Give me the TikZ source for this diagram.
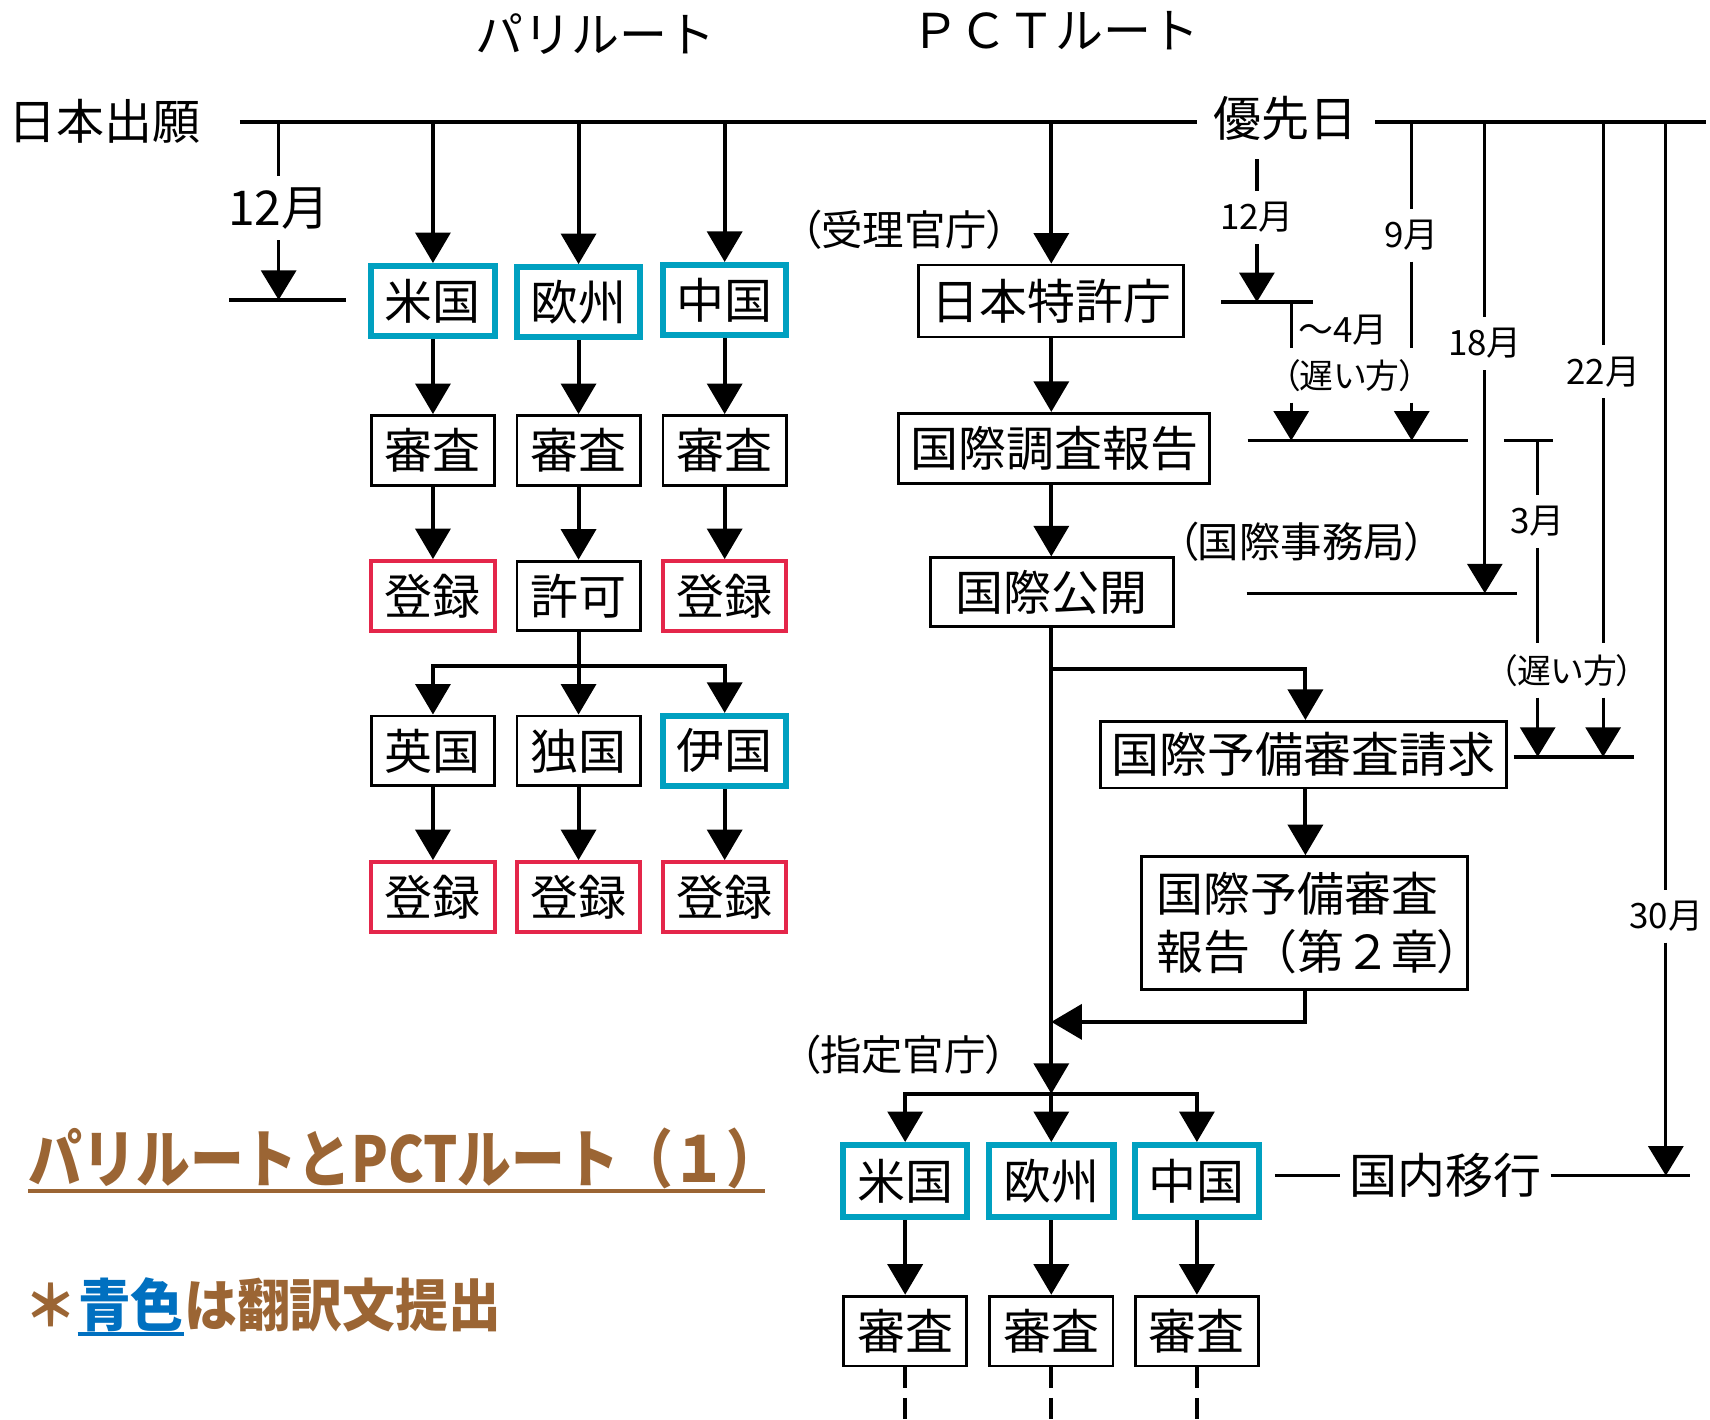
\documentclass[tikz,border=0pt]{standalone}
\usepackage{fontspec}
\setmainfont{Noto Sans CJK JP}
\newfontfamily\jpp[RawFeature=+palt]{Noto Sans CJK JP}
\newfontfamily\jpb[FakeStretch=0.85]{Noto Sans CJK JP}
\newfontfamily\jpc[FakeStretch=0.93]{Noto Sans CJK JP}
\usetikzlibrary{arrows.meta}
\definecolor{cyanC}{RGB}{0,160,192}
\definecolor{redC}{RGB}{228,38,74}
\definecolor{brownC}{RGB}{155,101,52}
\definecolor{blueC}{RGB}{0,112,192}
\begin{document}
\begin{tikzpicture}[x=0.5pt,y=-0.5pt,
  bx/.style={draw=black, line width=1.3pt, inner sep=0pt, fill=white, font=\fontsize{22pt}{26pt}\selectfont},
  cbx/.style={bx, draw=cyanC, line width=2.8pt},
  rbx/.style={bx, draw=redC, line width=1.8pt},
  pb/.style={minimum width=56.5pt, minimum height=32pt},
  db/.style={minimum width=57pt, minimum height=33pt},
  conn/.style={line width=1.8pt, -{Triangle[width=16pt,length=14pt]}},
  cl/.style={line width=1.8pt},
  tline/.style={line width=1.7pt},
  rl/.style={line width=1.5pt},
  rconn/.style={line width=1.5pt, -{Triangle[width=16pt,length=13.5pt]}},
  big/.style={font=\fontsize{22pt}{26pt}\selectfont, inner sep=0pt},
  mon/.style={font=\fontsize{16pt}{18pt}\selectfont, inner xsep=1pt, inner ysep=5pt},
  bigmon/.style={font=\fontsize{22pt}{26pt}\selectfont, inner xsep=1pt, inner ysep=5pt},
  paren/.style={font=\jpp\fontsize{19pt}{22pt}\selectfont, inner sep=0pt},
  late/.style={font=\jpp\fontsize{15.5pt}{18pt}\selectfont, inner xsep=1pt, inner ysep=5pt},
  notef/.style={anchor=base west, inner sep=0pt, font=\jpc\bfseries\fontsize{26pt}{30pt}\selectfont},
]
\fill[white] (0,0) rectangle (1568,1302);
\useasboundingbox (0,0) rectangle (1568,1302);

% headers
\node[big] (paris) at (546,31) {パリルート};
\node[big] (pct) at (968,28) {ＰＣＴルート};
\node[big] (jpapp) at (95.5,111) {日本出願};
\node[big] (prio) at (1179,109) {優先日};

% timeline
\coordinate (tlA) at (220,112);
\coordinate (tlB) at (1098,112);
\coordinate (trA) at (1261,112);
\coordinate (trB) at (1564,112);
\draw[tline] (tlA) -- (tlB);
\draw[tline] (trA) -- (trB);

% left 12 months
\coordinate (p12) at (255.5,112);
\node[bigmon] (m12l) at (255.5,191) {12月};
\coordinate (bar12l) at (255.5,275);
\coordinate (bar12la) at (210,275);
\coordinate (bar12lb) at (317,275);
\draw[rl] (p12) -- (m12l.north);
\draw[rconn] (m12l.south) -- (bar12l);
\draw[tline] (bar12la) -- (bar12lb);

% Paris route boxes
\node[cbx,pb] (pus) at (397,276) {米国};
\node[cbx,pb] (peu) at (530.5,277) {欧州};
\node[cbx,pb] (pcn) at (664.5,275) {中国};
\node[bx,pb] (pus2) at (397,413) {審査};
\node[bx,pb] (peu2) at (530.5,413) {審査};
\node[bx,pb] (pcn2) at (664.5,413) {審査};
\node[rbx,pb] (pus3) at (397,546.5) {登録};
\node[bx,pb] (kyoka) at (530.5,546.5) {許可};
\node[rbx,pb] (pcn3) at (664.5,546.5) {登録};
\node[bx,pb] (uk) at (397,688.5) {英国};
\node[bx,pb] (de) at (530.5,688.5) {独国};
\node[cbx,pb] (it) at (664.5,688.5) {伊国};
\node[rbx,pb] (uk2) at (397,822.5) {登録};
\node[rbx,pb] (de2) at (530.5,822.5) {登録};
\node[rbx,pb] (it2) at (664.5,822.5) {登録};

\coordinate (t1) at (397,112);
\coordinate (t2) at (530.5,112);
\coordinate (t3) at (664.5,112);
\draw[conn] (t1) -- (pus.north);
\draw[conn] (t2) -- (peu.north);
\draw[conn] (t3) -- (pcn.north);
\draw[conn] (pus.south) -- (pus2.north);
\draw[conn] (peu.south) -- (peu2.north);
\draw[conn] (pcn.south) -- (pcn2.north);
\draw[conn] (pus2.south) -- (pus3.north);
\draw[conn] (peu2.south) -- (kyoka.north);
\draw[conn] (pcn2.south) -- (pcn3.north);
\coordinate (kb) at (530.5,611);
\draw[cl] (kyoka.south) -- (kb);
\draw[conn] (kb) -| (uk.north);
\draw[conn] (kb) -- (de.north);
\draw[conn] (kb) -| (it.north);
\draw[conn] (uk.south) -- (uk2.north);
\draw[conn] (de.south) -- (de2.north);
\draw[conn] (it.south) -- (it2.north);

% PCT route
\node[paren] (juri) at (829,211) {（受理官庁）};
\node[bx, minimum width=121.5pt, minimum height=33pt] (jpo) at (964,276) {日本特許庁};
\node[bx, minimum width=142.5pt, minimum height=32pt] (isr) at (966.5,411) {国際調査報告};
\node[bx, minimum width=111.5pt, minimum height=31.5pt] (pub) at (964.5,543) {国際公開};
\node[paren] (ib) at (1193.5,497) {（国際事務局）};
\node[bx, minimum width=186pt, minimum height=30.5pt] (ipr) at (1195,692) {国際予備審査請求};
\node[bx, minimum width=149.5pt, minimum height=61pt] (iper) at (1196,846.5) {};
\node[anchor=west, align=left, inner sep=0pt, font=\fontsize{21.5pt}{26.5pt}\selectfont] (ipert) at ([xshift=7.5pt]iper.west) {国際予備審査\\報告（第２章{\jpp ）}};
\node[paren] (shitei) at (828,967) {（指定官庁）};

\coordinate (tp) at (964,112);
\draw[conn] (tp) -- (jpo.north);
\draw[conn] (jpo.south) -- (jpo.south |- isr.north);
\draw[conn] (jpo.south |- isr.south) -- (jpo.south |- pub.north);
\coordinate (pb1) at (964,613.5);
\coordinate (dsp) at (964,1003);
\draw[conn] (jpo.south |- pub.south) -- (dsp);
\coordinate (iprtop) at (1197,692);
\draw[conn] (pb1) -| (iprtop |- ipr.north);
\draw[conn] (iprtop |- ipr.south) -- (iprtop |- iper.north);
\coordinate (ret) at (964,937);
\draw[conn] (iprtop |- iper.south) |- (ret);

% designated offices
\node[cbx,db] (dus) at (830,1083) {米国};
\node[cbx,db] (deu) at (964,1083) {欧州};
\node[cbx,db] (dcn) at (1097.5,1083) {中国};
\node[bx,pb] (ds1) at (830,1220.5) {審査};
\node[bx,pb] (ds2) at (964,1220.5) {審査};
\node[bx,pb] (ds3) at (1097.5,1220.5) {審査};
\draw[conn] (dsp) -| (dus.north);
\draw[conn] (dsp) -- (deu.north);
\draw[conn] (dsp) -| (dcn.north);
\draw[conn] (dus.south) -- (ds1.north);
\draw[conn] (deu.south) -- (ds2.north);
\draw[conn] (dcn.south) -- (ds3.north);
\coordinate (bot) at (0,1304);
\draw[cl, dash pattern=on 9.5pt off 4.5pt] (ds1.south) -- (ds1.south |- bot);
\draw[cl, dash pattern=on 9.5pt off 4.5pt] (ds2.south) -- (ds2.south |- bot);
\draw[cl, dash pattern=on 9.5pt off 4.5pt] (ds3.south) -- (ds3.south |- bot);

% national phase
\node[big, inner xsep=4pt] (kokunai) at (1325.5,1078) {国内移行};
\coordinate (k0) at (1169,1078);
\coordinate (k1) at (1550,1078);
\draw[rl] (k0) -- (kokunai.west);
\draw[rl] (kokunai.east) -- (k1);

% right side time lines
\node[mon] (m12r) at (1152.5,199.5) {12月};
\coordinate (r12t) at (1152.5,146);
\coordinate (r12b) at (1152.5,277);
\draw[rl] (r12t) -- (m12r.north);
\draw[rconn] (m12r.south) -- (r12b);
\coordinate (bA) at (1120,277);
\coordinate (bB) at (1204,277);
\draw[rl] (bA) -- (bB);
\coordinate (c4) at (1184,277);
\node[mon, anchor=west, inner xsep=0pt] (m4) at (1190,303) {～4月};
\node[late] (late1) at (1237.5,344) {（遅い方）};
\draw[rl] (c4) -- (late1.north -| c4);
\coordinate (b404a) at (1144,404);
\coordinate (b404b) at (1346,404);
\draw[rl] (b404a) -- (b404b);
\draw[rconn] (late1.south -| c4) -- (b404a -| c4);

\coordinate (t9) at (1294.5,112);
\node[mon] (m9) at (1294.5,215.5) {9月};
\draw[rl] (t9) -- (m9.north);
\draw[rl] (m9.south) -- (late1.north -| m9.south);
\draw[rconn] (late1.south -| m9.south) -- (b404a -| m9.south);

\coordinate (t18) at (1361.5,112);
\node[mon] (m18) at (1361.5,315) {18月};
\draw[rl] (t18) -- (m18.north);
\coordinate (b544a) at (1143,544);
\coordinate (b544b) at (1391,544);
\draw[rl] (b544a) -- (b544b);
\draw[rconn] (m18.south) -- (b544a -| m18.south);

\coordinate (t22) at (1470,112);
\node[mon] (m22) at (1470,341) {22月};
\draw[rl] (t22) -- (m22.north);
\node[late] (late2) at (1437,614.5) {（遅い方）};
\draw[rl] (m22.south) -- (late2.north -| m22.south);
\coordinate (b694a) at (1388,694);
\coordinate (b694b) at (1498,694);
\draw[rl] (b694a) -- (b694b);
\draw[rconn] (late2.south -| m22.south) -- (b694a -| m22.south);

\coordinate (t3a) at (1379,404);
\coordinate (t3b) at (1424,404);
\coordinate (c3) at (1410,404);
\draw[rl] (t3a) -- (t3b);
\node[mon] (m3) at (1410,478) {3月};
\draw[rl] (c3) -- (m3.north);
\draw[rl] (m3.south) -- (late2.north -| m3.south);
\draw[rconn] (late2.south -| m3.south) -- (b694a -| m3.south);

\coordinate (t30) at (1527.5,112);
\node[mon] (m30) at (1528,840) {30月};
\draw[rl] (t30) -- (m30.north -| t30);
\draw[rconn] (m30.south -| t30) -- (k1 -| t30);

% title and note
\node[anchor=base west, inner sep=0pt, text=brownC, font=\jpb\bfseries\fontsize{29pt}{32pt}\selectfont] (title) at (26,1084) {パリルートとPCTルート（１）};
\draw[brownC, line width=1.6pt] ([yshift=-4pt]title.base west) -- ([yshift=-4pt,xshift=-7.5pt]title.base east);
\node[notef, text=brownC] (ast) at (22,1216) {＊};
\node[notef, text=blueC] (aoiro) at (ast.base east) {青色};
\node[notef, text=brownC] (rest) at (aoiro.base east) {は翻訳文提出};
\draw[blueC, line width=1.7pt] ([yshift=-3.5pt]aoiro.base west) -- ([yshift=-3.5pt]aoiro.base east);
\end{tikzpicture}
\end{document}
